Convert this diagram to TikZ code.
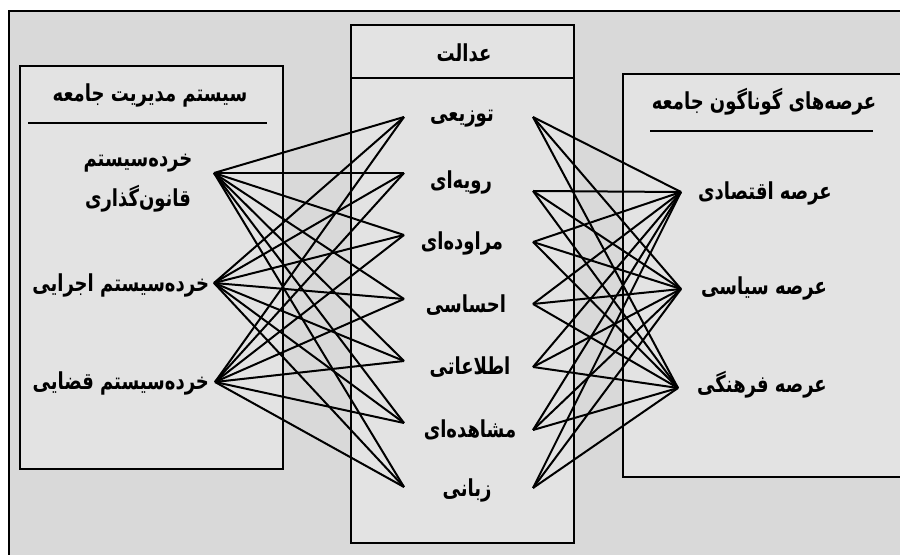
\documentclass[tikz,border=0pt]{standalone}
\usepackage{graphicx}
\usepackage{fontspec}
\newfontfamily\arabicfont[Script=Arabic]{DejaVu Sans}
\TeXXeTstate=1
\definecolor{framegray}{HTML}{D9D9D9}
\definecolor{boxgray}{HTML}{E3E3E3}
\newcommand{\fatext}[1]{\scalebox{1}[1.3]{\beginR #1\endR}}

\begin{document}
\begin{tikzpicture}[x=0.75pt,y=-0.75pt,line width=1.5pt,
  box/.style={draw=black,fill=boxgray,line width=1.6pt},
  fa/.style={font=\arabicfont\bfseries\fontsize{13.5}{26}\selectfont,inner sep=0pt,align=center}]
\tikzstyle{link} = [draw,black,line width=1.5pt]

\useasboundingbox (0,0) rectangle (900,555);
\clip (0,0) rectangle (900,555);
\filldraw[draw=black, fill=framegray, line width=1.6pt] (9,11) rectangle (910,565);

% boxes
\filldraw[box] (20,66) rectangle (283,469);
\filldraw[box] (351,25) rectangle (574,543);
\filldraw[box] (623,74) rectangle (910,477);
\draw (28,123) -- (267,123);
\draw (351,78) -- (574,78);
\draw (650,131) -- (873,131);

% end points, left
\coordinate (qanun) at (214,173);
\coordinate (ejra) at (214,283);
\coordinate (qaza) at (215,382);

% end points, middle
\coordinate (ml1) at (404,117);
\coordinate (ml2) at (404,173);
\coordinate (ml3) at (404,235);
\coordinate (ml4) at (404,299);
\coordinate (ml5) at (404,361);
\coordinate (ml6) at (404,423);
\coordinate (ml7) at (404,487);
\coordinate (mr1) at (533,117);
\coordinate (mr2) at (533,191);
\coordinate (mr3) at (533,242);
\coordinate (mr4) at (533,304);
\coordinate (mr5) at (533,367);
\coordinate (mr6) at (533,430);
\coordinate (mr7) at (533,488);

% end points, right
\coordinate (eqtesad) at (681,192);
\coordinate (siasat) at (681,289);
\coordinate (farhang) at (678,388);

% links
\foreach \s in {qanun,ejra,qaza}
  \foreach \m in {1,...,7}
    \path[link] (\s) -- (ml\m);
\foreach \m in {1,...,7}
  \foreach \t in {eqtesad,siasat,farhang}
    \path[link] (mr\m) -- (\t);

% titles
\node[fa] (modiriat) at (150,95) {\fatext{سیستم مدیریت جامعه}};
\node[fa] (edalat) at (464,53) {\fatext{عدالت}};
\node[fa] (arseha) at (764,102) {\fatext{عرصه‌های گوناگون جامعه}};

% left
\node[fa] (tqanun) at (138,183) {\fatext{خرده‌سیستم}\\[4pt]\fatext{قانون‌گذاری}};
\node[fa, anchor=east] (tejra) at (210,285) {\fatext{خرده‌سیستم اجرایی}};
\node[fa, anchor=east] (tqaza) at (210,383) {\fatext{خرده‌سیستم قضایی}};

% middle
\node[fa] (tozii) at (462,119) {\fatext{توزیعی}};
\node[fa] (raviei) at (461,182) {\fatext{رویه‌ای}};
\node[fa] (moravedei) at (462,243) {\fatext{مراوده‌ای}};
\node[fa] (ehsasi) at (466,305) {\fatext{احساسی}};
\node[fa] (ettelaati) at (470,367) {\fatext{اطلاعاتی}};
\node[fa] (moshahedei) at (470,430) {\fatext{مشاهده‌ای}};
\node[fa] (zabani) at (467,490) {\fatext{زبانی}};

% right
\node[fa] (teqtesad) at (765,193) {\fatext{عرصه اقتصادی}};
\node[fa] (tsiasat) at (764,288) {\fatext{عرصه سیاسی}};
\node[fa] (tfarhang) at (762,385) {\fatext{عرصه فرهنگی}};

\end{tikzpicture}
\end{document}
